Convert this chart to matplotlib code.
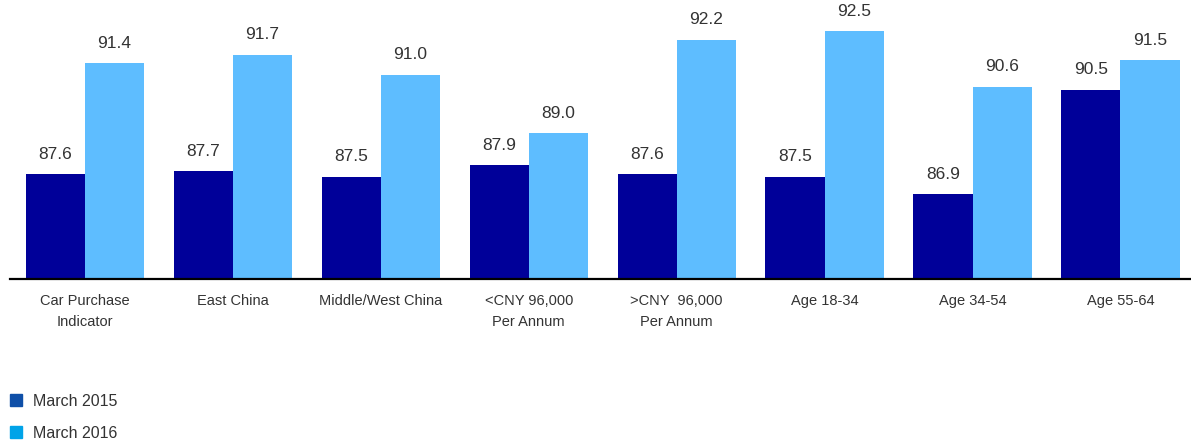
import matplotlib
matplotlib.use("Agg")
import matplotlib.pyplot as plt
from matplotlib.patches import Rectangle
import numpy as np

categories = [
    "Car Purchase\nIndicator",
    "East China",
    "Middle/West China",
    "<CNY 96,000\nPer Annum",
    ">CNY  96,000\nPer Annum",
    "Age 18-34",
    "Age 34-54",
    "Age 55-64",
]
march_2015 = [87.6, 87.7, 87.5, 87.9, 87.6, 87.5, 86.9, 90.5]
march_2016 = [91.4, 91.7, 91.0, 89.0, 92.2, 92.5, 90.6, 91.5]
series_names = ["March 2015", "March 2016"]

bar_colors = ["#000099", "#5EBDFF"]
legend_colors = ["#0F4FA8", "#00A3E8"]
text_color = "#333333"

plt.rcParams["font.family"] = ["Liberation Sans", "DejaVu Sans"]

W, H = 1191, 441
fig = plt.figure(figsize=(W / 100, H / 100), dpi=100)
ax = fig.add_axes([10 / W, 1 - 279 / H, 1180 / W, 279 / H])

x = np.arange(len(categories))
width = 0.4
b1 = ax.bar(x - width / 2, march_2015, width, color=bar_colors[0])
b2 = ax.bar(x + width / 2, march_2016, width, color=bar_colors[1])

for bars, vals in ((b1, march_2015), (b2, march_2016)):
    for rect, v in zip(bars, vals):
        ax.annotate(f"{v:.1f}", (rect.get_x() + rect.get_width() / 2, v),
                    xytext=(0, 9), textcoords="offset points",
                    ha="center", va="bottom", fontsize=12.5, color=text_color)

ax.set_ylim(84, 93.57)
ax.set_xlim(-0.507, 7.47)
ax.set_yticks([])
ax.set_xticks(x)
ax.set_xticklabels(categories, fontsize=10.5, color=text_color, linespacing=1.6)
ax.tick_params(axis="x", length=0, pad=11)
for side in ("top", "right", "left"):
    ax.spines[side].set_visible(False)
ax.spines["bottom"].set_linewidth(1.6)
ax.spines["bottom"].set_color("black")

# legend drawn as swatches with labels in the lower-left corner
for i, (name, col) in enumerate(zip(series_names, legend_colors)):
    yc = 400 + 32 * i
    fig.patches.append(Rectangle((10 / W, 1 - (yc + 6) / H), 12 / W, 12 / H,
                                 transform=fig.transFigure, color=col))
    fig.text(33 / W, 1 - (yc + 2) / H, name, ha="left", va="center",
             fontsize=11.5, color=text_color)

fig.savefig("out.png", dpi=100)
